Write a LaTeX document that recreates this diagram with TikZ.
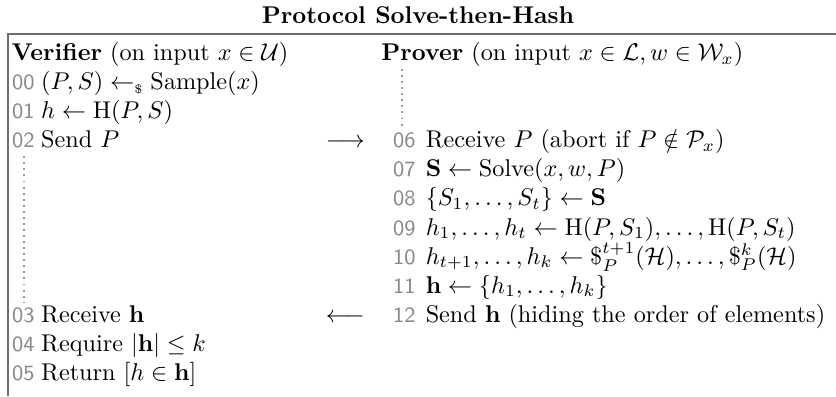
\documentclass[tikz,border=0pt]{standalone}
\usepackage{amsmath,amssymb}
\definecolor{numgray}{HTML}{8A8A8A}
\definecolor{framegray}{HTML}{6E6E6E}
\definecolor{dotgray}{HTML}{9A9A9A}
\begin{document}
\begin{tikzpicture}[x=1pt,y=1pt,
  txt/.style={anchor=base west,inner sep=0pt},
  num/.style={anchor=base west,inner sep=0pt,font=\small\sffamily,text=numgray},
  arr/.style={anchor=base,inner sep=0pt},
  framel/.style={draw=framegray,line width=0.8pt},
  vdots/.style={draw=dotgray,line width=0.8pt,dash pattern=on 0.8pt off 1.7pt}]
\useasboundingbox (0,0) rectangle (345,-163.6);
% title
\node[anchor=base,inner sep=0pt] (title) at (172.5,-9.6) {\textbf{Protocol Solve-then-Hash}};
% frame
\coordinate (ftl) at (3.3,-14);
\coordinate (ftr) at (345,-14);
\coordinate (fbl) at (3.3,-163.6);
\draw[framel] (ftr) -- (ftl) -- (fbl);
% left column
\node[txt] (vh) at (4.6,-25) {\textbf{Verifier} (on input $x\in\mathcal{U}$)};
\node[num] (n00) at (4.8,-37) {00};
\node[txt] (l00) at (16.8,-37) {$(P,S)\leftarrow_{\scriptscriptstyle\$}\mathrm{Sample}(x)$};
\node[num] (n01) at (4.8,-49) {01};
\node[txt] (l01) at (16.8,-49) {$h\leftarrow\mathrm{H}(P,S)$};
\node[num] (n02) at (4.8,-61) {02};
\node[txt] (l02) at (16.8,-61) {Send $P$};
\node[num] (n03) at (4.8,-133) {03};
\node[txt] (l03) at (16.8,-133) {Receive $\mathbf{h}$};
\node[num] (n04) at (4.8,-145) {04};
\node[txt] (l04) at (16.8,-145) {Require $|\mathbf{h}|\le k$};
\node[num] (n05) at (4.8,-157) {05};
\node[txt] (l05) at (16.8,-157) {Return $[h\in\mathbf{h}]$};
% arrows
\node[arr] (a1) at (142.5,-61) {$\longrightarrow$};
\node[arr] (a2) at (142.5,-133) {$\longleftarrow$};
% right column
\node[txt] (ph) at (157.2,-25) {\textbf{Prover} (on input $x\in\mathcal{L},w\in\mathcal{W}_x$)};
\node[num] (n06) at (162,-61) {06};
\node[txt] (r06) at (175.5,-61) {Receive $P$ (abort if $P\notin\mathcal{P}_x$)};
\node[num] (n07) at (162,-73) {07};
\node[txt] (r07) at (175.5,-73) {$\mathbf{S}\leftarrow\mathrm{Solve}(x,w,P)$};
\node[num] (n08) at (162,-85) {08};
\node[txt] (r08) at (175.5,-85) {$\{S_1,\dots,S_t\}\leftarrow\mathbf{S}$};
\node[num] (n09) at (162,-97) {09};
\node[txt] (r09) at (175.5,-97) {$h_1,\dots,h_t\leftarrow\mathrm{H}(P,S_1),\dots,\mathrm{H}(P,S_t)$};
\node[num] (n10) at (162,-109) {10};
\node[txt] (r10) at (175.5,-109) {$h_{t+1},\dots,h_k\leftarrow\$^{t+1}_P(\mathcal{H}),\dots,\$^{k}_P(\mathcal{H})$};
\node[num] (n11) at (162,-121) {11};
\node[txt] (r11) at (175.5,-121) {$\mathbf{h}\leftarrow\{h_1,\dots,h_k\}$};
\node[num] (n12) at (162,-133) {12};
\node[txt] (r12) at (175.5,-133) {Send $\mathbf{h}$ (hiding the order of elements)};
% dotted continuation lines
\coordinate (ld1) at (10,-64.5);
\coordinate (ld2) at (10,-125);
\coordinate (rd1) at (166,-28.5);
\coordinate (rd2) at (166,-53);
\draw[vdots] (ld1) -- (ld2);
\draw[vdots] (rd1) -- (rd2);
\end{tikzpicture}
\end{document}
